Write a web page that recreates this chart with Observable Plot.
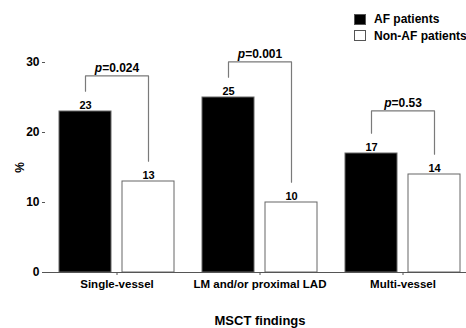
<!DOCTYPE html>
<html>
<head>
<meta charset="utf-8">
<script src="https://cdn.jsdelivr.net/npm/d3@7"></script>
<script src="https://cdn.jsdelivr.net/npm/@observablehq/plot@0.6"></script>
<style>
  html, body { margin: 0; padding: 0; background: #fff; overflow: hidden; }
  #chart { position: relative; width: 466px; height: 328px; overflow: hidden; font-family: "Liberation Sans", Arial, sans-serif; }
  #chart svg { display: block; }
  .legend { position: absolute; left: 354px; top: 11px; font-weight: bold; font-size: 12px; color: #000; line-height: 1; }
  .legend .row { display: flex; align-items: center; height: 16.6px; white-space: nowrap; }
  .legend .sw { width: 11.5px; height: 11px; box-sizing: border-box; border: 1px solid #555; margin-right: 8.5px; flex: none; }
  g[aria-label="fx-axis label"] text { font-size: 13px; }
</style>
</head>
<body>
<div id="chart"></div>
<script>
// MSCT findings by group (% of patients)
const groups = ["Single-vessel", "LM and/or proximal LAD", "Multi-vessel"];
const seriesNames = ["AF patients", "Non-AF patients"];
const afPercent = [23, 25, 17];
const nonAfPercent = [13, 10, 14];
const pValues = ["0.024", "0.001", "0.53"];
const bracketTop = [28.1, 30.1, 23.1];
const yTicks = [0, 10, 20, 30];
const seriesColors = ["#000000", "#ffffff"];

// gap between a bar's value label and the bracket leg above it (in % units)
const legGap = 2.9;

const bars = groups.flatMap((g, i) => [
  {group: g, series: seriesNames[0], value: afPercent[i]},
  {group: g, series: seriesNames[1], value: nonAfPercent[i]}
]);

const brackets = groups.flatMap((g, i) => [
  {group: g, series: seriesNames[0], y: afPercent[i] + legGap},
  {group: g, series: seriesNames[0], y: bracketTop[i]},
  {group: g, series: seriesNames[1], y: bracketTop[i]},
  {group: g, series: seriesNames[1], y: nonAfPercent[i] + legGap}
]);

const tests = groups.map((g, i) => ({group: g, top: bracketTop[i], p: `p=${pValues[i]}`}));

const plot = Plot.plot({
  width: 466,
  height: 328,
  marginLeft: 45,
  marginRight: -8.5,
  marginTop: 62,
  marginBottom: 56,
  style: {fontFamily: '"Liberation Sans", Arial, sans-serif', fontWeight: "bold", fontSize: "12px", color: "#000", background: "#fff"},
  fx: {domain: groups, padding: 0},
  x: {domain: seriesNames, paddingInner: 0.167, paddingOuter: 0.209, axis: null},
  y: {domain: [0, 30]},
  color: {domain: seriesNames, range: seriesColors},
  marks: [
    Plot.barY(bars, {fx: "group", x: "series", y: "value", fill: "series", stroke: "#666", strokeWidth: 1}),
    Plot.ruleY([0], {stroke: "#555"}),
    Plot.text(bars, {fx: "group", x: "series", y: "value", text: d => String(d.value), lineAnchor: "bottom", dy: -3, fontSize: 11}),
    Plot.line(brackets, {fx: "group", x: "series", y: "y", z: "group", stroke: "#7a7a7a", strokeWidth: 1.2}),
    Plot.text(tests, {fx: "group", y: "top", text: "p", lineAnchor: "bottom", dy: -4, fontSize: 12}),
    Plot.axisY({ticks: yTicks, tickSize: 3, tickPadding: 3, line: true, stroke: "#555", label: "%", labelArrow: "none", labelAnchor: "center", labelOffset: 30}),
    Plot.axisFx({anchor: "bottom", tickSize: 3, tickPadding: 4, stroke: "#555", fontSize: 11.5, label: "MSCT findings", labelAnchor: "center", labelOffset: 52})
  ]
});

// italic "p" in the significance labels; plain "%" as the y label
const svgNS = "http://www.w3.org/2000/svg";
plot.querySelectorAll("text").forEach(t => {
  const s = t.textContent;
  if (/^p=/.test(s)) {
    t.textContent = "";
    const ital = document.createElementNS(svgNS, "tspan");
    ital.setAttribute("font-style", "italic");
    ital.textContent = "p";
    t.append(ital, document.createTextNode(s.slice(1)));
  } else if (s.startsWith("%") && s !== "%") {
    t.textContent = "%";
  }
});

const chart = document.getElementById("chart");
chart.append(plot);

// series key
const legend = document.createElement("div");
legend.className = "legend";
seriesNames.forEach((name, i) => {
  const row = document.createElement("div");
  row.className = "row";
  const sw = document.createElement("span");
  sw.className = "sw";
  sw.style.background = seriesColors[i];
  const label = document.createElement("span");
  label.textContent = name;
  row.append(sw, label);
  legend.append(row);
});
chart.append(legend);
</script>
</body>
</html>
